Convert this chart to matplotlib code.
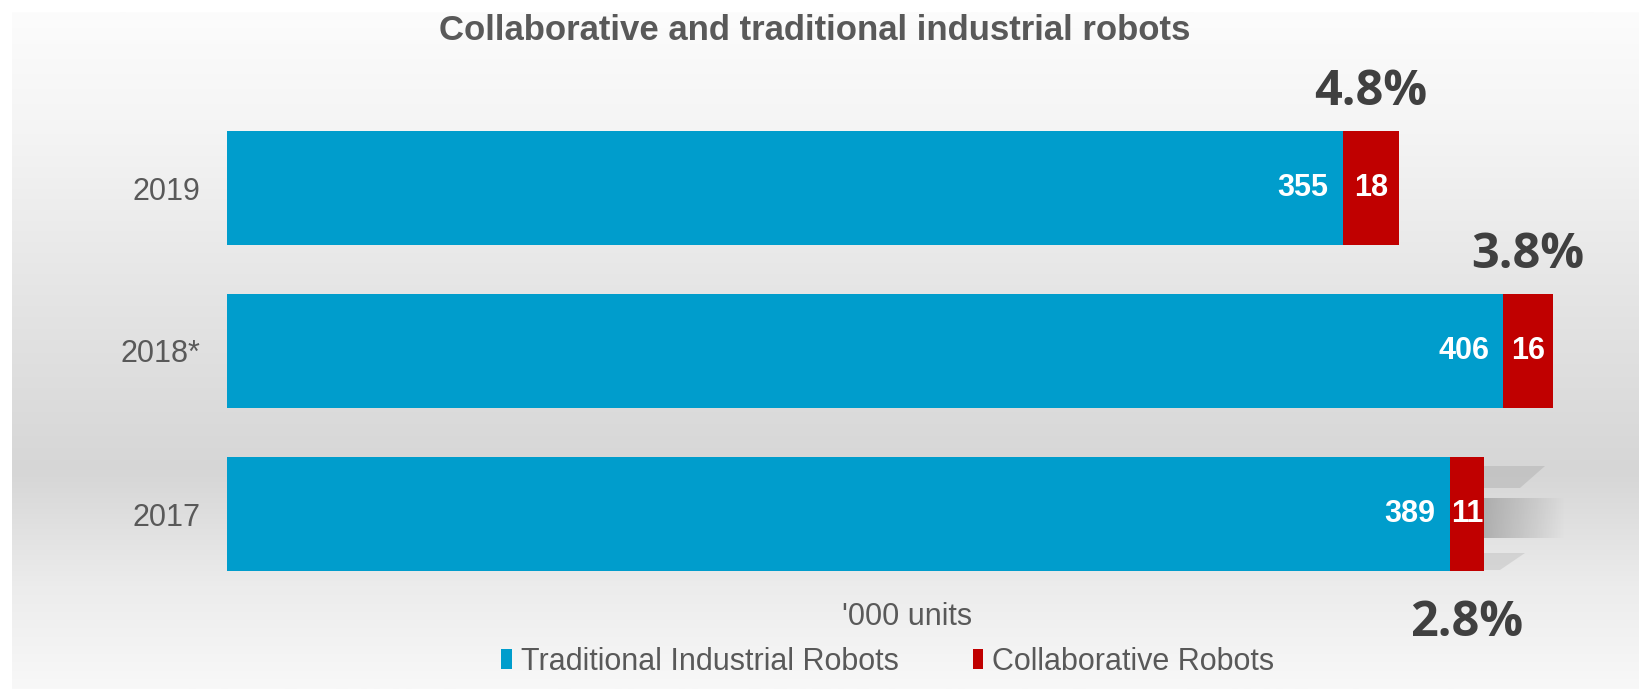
import matplotlib
matplotlib.use("Agg")
import matplotlib.pyplot as plt
import numpy as np
from matplotlib.colors import LinearSegmentedColormap
from matplotlib.patches import Patch

# ---- data ----
years = ["2017", "2018*", "2019"]
traditional = [389, 406, 355]
collaborative = [11, 16, 18]
share_labels = ["2.8%", "3.8%", "4.8%"]
series_names = ["Traditional Industrial Robots", "Collaborative Robots"]
title = "Collaborative and traditional industrial robots"
unit_label = "'000 units"

BLUE = "#009DCC"
RED = "#C00000"
GRAY = "#595959"
DARK = "#404040"

W, H = 1639, 689
fig = plt.figure(figsize=(W / 100, H / 100), dpi=100)
fig.patch.set_facecolor("white")

# background gradient panel
bg = fig.add_axes([0, 0, 1, 1], zorder=-5)
bg.set_xlim(0, W)
bg.set_ylim(H, 0)
bg.axis("off")
cmap = LinearSegmentedColormap.from_list(
    "bg",
    [(0.0, "#fcfcfc"), (0.18, "#f4f4f4"), (0.45, "#e3e3e3"),
     (0.68, "#d6d6d6"), (0.85, "#ececec"), (1.0, "#f8f8f8")])
grad = np.linspace(0, 1, 256).reshape(-1, 1)
bg.imshow(grad, cmap=cmap, aspect="auto", extent=(12, W, H, 12), vmin=0, vmax=1)

# shadow artifact near 2017 bar
sh = np.linspace(1, 0, 64).reshape(1, -1)
shcm = LinearSegmentedColormap.from_list("sh", [(0, (0.6, 0.6, 0.6, 0)), (1, (0.62, 0.62, 0.62, 0.75))])
bg.imshow(sh, cmap=shcm, aspect="auto", extent=(1483, 1565, 538, 498), vmin=0, vmax=1, zorder=2)
bg.fill([1483, 1545, 1520, 1483], [466, 466, 488, 488], color="#a8a8a8", alpha=0.4, lw=0, zorder=2)
bg.fill([1483, 1525, 1500, 1483], [553, 553, 570, 570], color="#a8a8a8", alpha=0.3, lw=0, zorder=2)

ax = fig.add_axes([227 / W, 1 - 595.5 / H, 1333 / W, 489 / H])
ax.set_facecolor("none")
y = np.arange(len(years))
bh = 0.705
ax.barh(y, traditional, height=bh, color=BLUE, edgecolor="none")
ax.barh(y, collaborative, left=traditional, height=bh, color=RED, edgecolor="none")
ax.set_xlim(0, 1333 / 3.143)
ax.set_ylim(-0.5, 2.5)
for s in ax.spines.values():
    s.set_visible(False)
ax.set_xticks([])
ax.set_yticks(y)
ax.set_yticklabels(years, fontsize=22, color=GRAY, family="Liberation Sans")
ax.tick_params(axis="y", length=0, pad=19)

for i in range(len(years)):
    t = traditional[i]
    c = collaborative[i]
    ax.annotate(str(t), (t, y[i]), xytext=(-14, 0), textcoords="offset pixels",
                ha="right", va="center", color="white", fontsize=22,
                fontweight="bold", family="Liberation Sans")
    ax.text(t + c / 2, y[i], str(c), ha="center", va="center", color="white",
            fontsize=22, fontweight="bold", family="Liberation Sans")
    if i == 0:
        ax.annotate(share_labels[i], (t + c / 2, y[i] - bh / 2), xytext=(0, -52),
                    textcoords="offset pixels", ha="center", va="center",
                    color=DARK, fontsize=35, fontweight="bold", family="Open Sans")
    else:
        ax.annotate(share_labels[i], (t + c / 2, y[i] + bh / 2), xytext=(0, 38),
                    textcoords="offset pixels", ha="center", va="center",
                    color=DARK, fontsize=35, fontweight="bold", family="Open Sans")

fig.text(815 / W, 1 - 30 / H, title, ha="center", va="center", fontsize=25,
         fontweight="bold", color=GRAY, family="Liberation Sans")
fig.text(907 / W, 1 - 617 / H, unit_label, ha="center", va="center", fontsize=22,
         color=GRAY, family="Liberation Sans")

handles = [Patch(facecolor=BLUE, edgecolor="none"), Patch(facecolor=RED, edgecolor="none")]
leg = fig.legend(handles, series_names, loc="center", bbox_to_anchor=(888 / W, 1 - 662 / H),
                 ncol=2, frameon=False, handlelength=0.35, handleheight=0.65,
                 handletextpad=0.3, columnspacing=2.4,
                 prop={"family": "Liberation Sans", "size": 22})
for txt in leg.get_texts():
    txt.set_color(GRAY)

fig.savefig("out.png", dpi=100)
